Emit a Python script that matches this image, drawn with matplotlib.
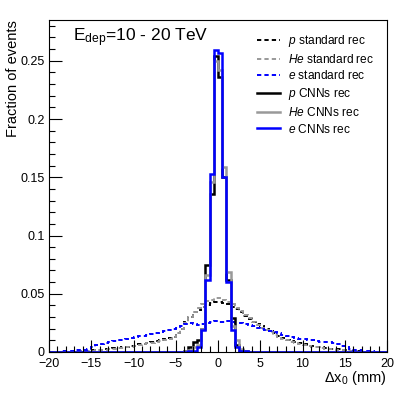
import numpy as np
import matplotlib
matplotlib.use("Agg")
import matplotlib.pyplot as plt
from matplotlib.lines import Line2D
from matplotlib.ticker import MultipleLocator

plt.rcParams['font.family'] = ['Liberation Sans', 'DejaVu Sans']
plt.rcParams['mathtext.fontset'] = 'custom'
plt.rcParams['mathtext.rm'] = 'Liberation Sans'
plt.rcParams['mathtext.it'] = 'Liberation Sans:italic'

# bin edges: 0.5 mm bins from -20 to 20
edges = np.arange(-20, 20.001, 0.5)

# standard reconstruction (80 bins, from -20 to 20)
p_std = [0, 0, 0, 0, 0, 0.0003, 0.0005, 0.0008, 0.001, 0.0012,
         0.0015, 0.0018, 0.002, 0.0025, 0.003, 0.0033, 0.0035, 0.004, 0.0045, 0.005,
         0.0055, 0.0065, 0.007, 0.008, 0.0085, 0.0095, 0.010, 0.011, 0.012, 0.013,
         0.016, 0.020, 0.026, 0.030, 0.034, 0.036, 0.039, 0.040, 0.042, 0.043,
         0.043, 0.042, 0.041, 0.039, 0.037, 0.034, 0.031, 0.028, 0.026, 0.024,
         0.022, 0.020, 0.018, 0.016, 0.014, 0.012, 0.0105, 0.0095, 0.0085, 0.0075,
         0.0065, 0.0055, 0.005, 0.0045, 0.004, 0.0035, 0.003, 0.003, 0.0025, 0.002,
         0.0015, 0.001, 0.0008, 0.0005, 0.0003, 0, 0, 0, 0, 0]
he_std = [0, 0, 0, 0, 0, 0.0002, 0.0004, 0.0006, 0.0008, 0.001,
          0.0012, 0.0015, 0.0018, 0.002, 0.0025, 0.003, 0.0033, 0.0037, 0.004, 0.0045,
          0.005, 0.006, 0.0065, 0.0075, 0.008, 0.009, 0.0095, 0.0105, 0.0115, 0.013,
          0.016, 0.020, 0.025, 0.030, 0.034, 0.038, 0.041, 0.044, 0.045, 0.046,
          0.046, 0.045, 0.043, 0.041, 0.038, 0.035, 0.032, 0.029, 0.026, 0.023,
          0.021, 0.019, 0.017, 0.015, 0.013, 0.0115, 0.010, 0.009, 0.008, 0.007,
          0.006, 0.005, 0.0045, 0.004, 0.0035, 0.003, 0.0028, 0.0025, 0.002, 0.0018,
          0.0014, 0.001, 0.0007, 0.0004, 0.0002, 0, 0, 0, 0, 0]
e_std = [0, 0, 0.0003, 0.0005, 0.0008, 0.001, 0.0013, 0.0016, 0.002, 0.003,
         0.0045, 0.006, 0.007, 0.008, 0.009, 0.0095, 0.010, 0.0105, 0.011, 0.012,
         0.013, 0.0135, 0.014, 0.015, 0.0155, 0.016, 0.017, 0.018, 0.019, 0.020,
         0.021, 0.022, 0.024, 0.025, 0.024, 0.023, 0.024, 0.025, 0.026, 0.027,
         0.026, 0.026, 0.027, 0.026, 0.025, 0.025, 0.024, 0.023, 0.022, 0.021,
         0.020, 0.019, 0.018, 0.017, 0.016, 0.015, 0.014, 0.013, 0.012, 0.0115,
         0.011, 0.0105, 0.010, 0.0095, 0.009, 0.009, 0.0085, 0.008, 0.007, 0.005,
         0.004, 0.003, 0.002, 0.0015, 0.001, 0.0008, 0.0005, 0.0003, 0, 0]

# CNN reconstruction: bins from -4 to 4 (zero elsewhere)
p_cnn_core = [0.0005, 0.004, 0.009, 0.010, 0.020, 0.075, 0.136, 0.254,
              0.236, 0.150, 0.062, 0.029, 0.006, 0.002, 0.001, 0]
he_cnn_core = [0.0005, 0.002, 0.004, 0.006, 0.020, 0.066, 0.146, 0.250,
               0.242, 0.159, 0.069, 0.022, 0.010, 0.003, 0.001, 0]
e_cnn_core = [0, 0.0005, 0.001, 0.004, 0.019, 0.062, 0.153, 0.259,
              0.257, 0.150, 0.060, 0.019, 0.004, 0.001, 0.0005, 0]

def full(core):
    pad = np.zeros(32)
    return np.concatenate([pad, np.array(core), pad])

labels = [r'$p$ standard rec', r'$He$ standard rec', r'$e$ standard rec',
          r'$p$ CNNs rec', r'$He$ CNNs rec', r'$e$ CNNs rec']
colors = ['black', '#999999', '#0000ff', 'black', '#999999', '#0000ff']

fig = plt.figure(figsize=(4.07, 3.96), dpi=100)
ax = fig.add_axes([49/407, 44/396, 338/407, 332/396])

dash = (0, (2.2, 1.6))
series = [p_std, he_std, e_std]
for vals, c in zip(series, colors[:3]):
    ax.stairs(np.array(vals), edges, color=c, lw=1.4, linestyle=dash, baseline=None)
for vals, c in zip([p_cnn_core, he_cnn_core, e_cnn_core], colors[3:]):
    ax.stairs(full(vals), edges, color=c, lw=1.8, baseline=None)

ax.set_xlim(-20, 20)
ax.set_ylim(0, 0.285)
ax.xaxis.set_major_locator(MultipleLocator(5))
ax.xaxis.set_minor_locator(MultipleLocator(1))
ax.yaxis.set_major_locator(MultipleLocator(0.05))
ax.yaxis.set_minor_locator(MultipleLocator(0.01))
ax.set_yticks([0, 0.05, 0.1, 0.15, 0.2, 0.25])
ax.set_yticklabels(['0', '0.05', '0.1', '0.15', '0.2', '0.25'])
ax.set_xticks([-20, -15, -10, -5, 0, 5, 10, 15, 20])
ax.set_xticklabels(['\u221220', '\u221215', '\u221210', '\u22125', '0', '5', '10', '15', '20'])
ax.tick_params(which='both', direction='in', top=False, right=False, labelsize=9)
ax.tick_params(axis='x', pad=4)
ax.tick_params(axis='y', pad=3)
ax.tick_params(which='major', length=9, width=0.8)
ax.tick_params(which='minor', length=4.5, width=0.8)
for s in ax.spines.values():
    s.set_linewidth(0.8)

fig.text(13/407, 1 - 20/396, 'Fraction of events', rotation=90, ha='center', va='top', fontsize=10.5)
fig.text(387/407, 1 - 378/396, r'$\Delta$x$_{0}$ (mm)', ha='right', va='center', fontsize=10.5)
ax.text(0.071, 0.937, r'E$_{\rm dep}$=10 - 20 TeV', transform=ax.transAxes, fontsize=12.5, va='baseline')

handles = []
for i, (lab, c) in enumerate(zip(labels, colors)):
    ls = dash if i < 3 else '-'
    lw = 1.4 if i < 3 else 1.8
    handles.append(Line2D([], [], color=c, lw=lw, linestyle=ls))
leg = ax.legend(handles, labels, loc='upper left', bbox_to_anchor=(0.6, 0.975), frameon=False,
                fontsize=8.6, handlelength=2.0, handletextpad=0.6, labelspacing=0.31, borderaxespad=0)

fig.savefig('out.png', dpi=100)
